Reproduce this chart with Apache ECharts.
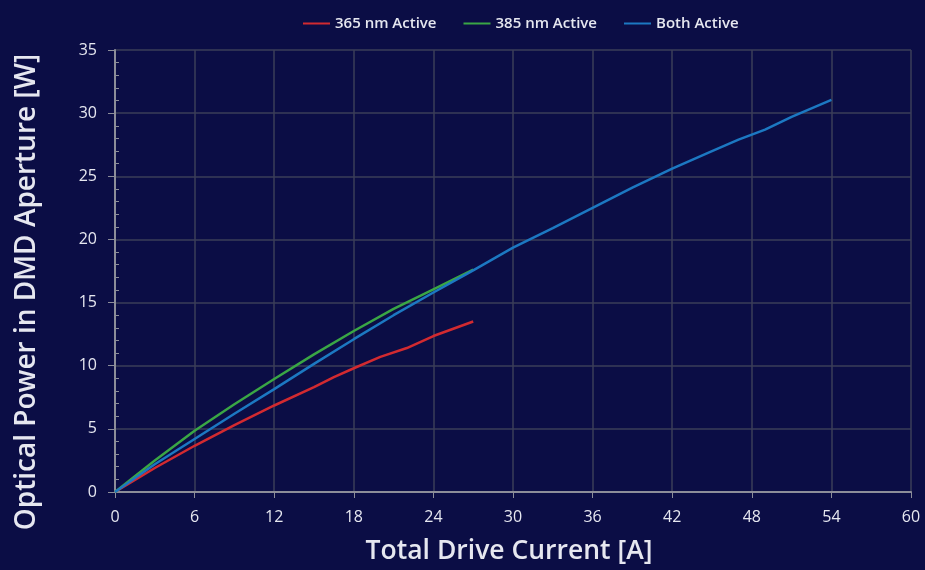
<!DOCTYPE html>
<html>
<head>
<meta charset="utf-8">
<script src="https://cdn.jsdelivr.net/npm/echarts@6/dist/echarts.min.js"></script>
<style>
  html, body { margin: 0; padding: 0; background: #0b0d45; }
  #main { width: 925px; height: 570px; }
</style>
</head>
<body>
<div id="main"></div>
<script>
// values: [current A, power W]
var red365 = [[0, 0], [3, 1.9], [6, 3.66], [9, 5.3], [12, 6.85], [15, 8.3], [16.5, 9.1], [18, 9.8], [20, 10.7], [22, 11.4], [24, 12.35], [27, 13.5]];
var green385 = [[0, 0], [3, 2.5], [6, 4.85], [9, 6.95], [12, 8.95], [15, 10.9], [18, 12.75], [21, 14.5], [24, 16.05], [27, 17.6]];
var blueBoth = [[0, 0], [3, 2.2], [6, 4.2], [9, 6.2], [12, 8.15], [15, 10.15], [18, 12.1], [21, 14.0], [24, 15.8], [27, 17.55], [30, 19.35], [33, 20.9], [36, 22.5], [39, 24.1], [42, 25.6], [45, 27.0], [47, 27.9], [49, 28.7], [51, 29.7], [54, 31.05]];
var seriesNames = ["365 nm Active", "385 nm Active", "Both Active"];

var textColor = "#e6e7f0";
var gridColor = "#3b3e58";
var axisColor = "#8c8d99";

var myChart = echarts.init(document.getElementById("main"));

myChart.setOption({
  backgroundColor: "#0b0d45",
  textStyle: { fontFamily: "Open Sans" },
  legend: {
    data: seriesNames,
    top: 11,
    left: 298,
    icon: "rect",
    itemWidth: 27,
    itemHeight: 2,
    itemGap: 27,
    textStyle: { color: textColor, fontSize: 15, fontWeight: 600 },
  },
  grid: { left: 115, right: 14, top: 50, bottom: 77 },
  xAxis: {
    type: "value",
    min: 0,
    max: 60,
    interval: 6,
    name: "Total Drive Current [A]",
    nameLocation: "middle",
    nameGap: 46,
    nameTextStyle: { color: textColor, fontSize: 26.5, fontWeight: 600, padding: [0, 8, 0, 0] },
    axisLine: { show: true, onZero: false, lineStyle: { color: axisColor, width: 2 } },
    axisTick: { show: true, length: 6, lineStyle: { color: axisColor } },
    axisLabel: { color: textColor, fontSize: 16, margin: 17 },
    splitLine: { show: true, lineStyle: { color: gridColor, width: 1.5 } },
  },
  yAxis: [
    {
      type: "value",
      min: 0,
      max: 35,
      interval: 5,
      name: "Optical Power in DMD Aperture [W]",
      nameLocation: "middle",
      nameGap: 74,
      nameTextStyle: { color: textColor, fontSize: 28, fontWeight: 600, padding: [0, 42, 0, 0] },
      axisLine: { show: true, lineStyle: { color: axisColor, width: 2 } },
      axisTick: { show: true, length: 7, lineStyle: { color: axisColor } },
      axisLabel: { color: textColor, fontSize: 16, margin: 18 },
      splitLine: { show: true, lineStyle: { color: gridColor, width: 1.5 } },
    },
    {
      // 只画向内的小刻度
      type: "value",
      min: 0,
      max: 35,
      interval: 5,
      position: "left",
      axisLine: { show: false },
      axisTick: { show: false, inside: true },
      minorTick: { show: true, splitNumber: 5, length: 4, lineStyle: { color: axisColor } },
      axisLabel: { show: false },
      splitLine: { show: false },
    },
  ],
  series: [
    {
      name: seriesNames[0],
      type: "line",
      data: red365,
      showSymbol: false,
      lineStyle: { color: "#d22a30", width: 2.5 },
      itemStyle: { color: "#d22a30" },
    },
    {
      name: seriesNames[1],
      type: "line",
      data: green385,
      showSymbol: false,
      lineStyle: { color: "#3aa645", width: 2.5 },
      itemStyle: { color: "#3aa645" },
    },
    {
      name: seriesNames[2],
      type: "line",
      data: blueBoth,
      showSymbol: false,
      lineStyle: { color: "#1c78c2", width: 2.5 },
      itemStyle: { color: "#1c78c2" },
    },
  ],
});
</script>
</body>
</html>
